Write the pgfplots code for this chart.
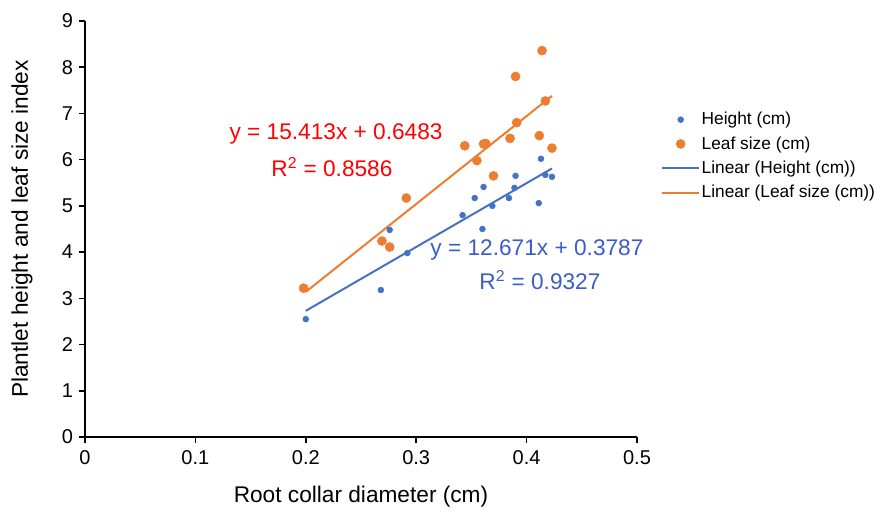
\documentclass[border=0pt]{standalone}
\usepackage{pgfplots}
\pgfplotsset{compat=1.18}
\usepackage{pgfplotstable}
\usepackage{fontspec}
\setmainfont{Liberation Sans}
\definecolor{xblue}{HTML}{4472C4}
\definecolor{xorange}{HTML}{ED7D31}
\definecolor{tblue}{RGB}{58,92,204}
\definecolor{tred}{HTML}{FF0000}

\pgfplotstableread{
x y
0.200 2.55
0.268 3.18
0.276 4.48
0.292 3.98
0.342 4.80
0.353 5.17
0.360 4.50
0.361 5.41
0.369 5.00
0.384 5.17
0.389 5.39
0.390 5.65
0.411 5.06
0.413 6.02
0.417 5.67
0.423 5.63
}\heighttab

\pgfplotstableread{
x y
0.198 3.22
0.269 4.24
0.276 4.11
0.291 5.17
0.344 6.30
0.355 5.98
0.361 6.34
0.363 6.35
0.370 5.65
0.385 6.46
0.390 7.80
0.391 6.80
0.4115 6.52
0.414 8.36
0.417 7.27
0.423 6.25
}\leaftab

\begin{document}
\begin{tikzpicture}
\path[use as bounding box] (-63.75pt,-56.25pt) rectangle (600.75pt,327.75pt);
\begin{axis}[
  at={(0,0)}, anchor=south west,
  scale only axis, width=414pt, height=312pt,
  xmin=0, xmax=0.5, ymin=0, ymax=9,
  xtick={0,0.1,0.2,0.3,0.4,0.5},
  xticklabels={0,0.1,0.2,0.3,0.4,0.5},
  ytick={0,1,...,9},
  axis lines=left,
  axis line style={black, line width=1.1pt, -},
  tick style={black, line width=1.1pt},
  tick align=outside, major tick length=4.5pt,
  /pgf/number format/assume math mode=true,
  ticklabel style={font=\fontsize{15}{18}\selectfont},
  xticklabel style={yshift=-2pt},
  yticklabel style={xshift=-1pt},
  xlabel={Root collar diameter (cm)},
  ylabel={Plantlet height and leaf size index},
  every axis x label/.style={at={(axis description cs:0.5,-0.144)}, anchor=center, font=\fontsize{17}{20}\selectfont},
  every axis y label/.style={at={(axis description cs:-0.114,0.5)}, rotate=90, anchor=center, font=\fontsize{17}{20}\selectfont},
  clip=false,
  legend style={draw=none, fill=none, at={(axis description cs:1.043,0.781)}, anchor=north west,
    font=\fontsize{13}{15.6}\selectfont, inner sep=0pt, row sep=7.3pt,
    nodes={inner xsep=1pt, inner ysep=0pt}},
  legend cell align=left,
  legend image code/.code={\draw[mark repeat=2,mark phase=2,#1] plot coordinates {(0pt,0pt)(14pt,0pt)(28pt,0pt)};},
]
\addplot[only marks, mark=*, mark size=2.2pt, color=xblue, mark options={draw=xblue, fill=xblue}] table[x=x,y=y] {\heighttab};
\addlegendentry{Height (cm)}
\addplot[only marks, mark=*, mark size=3.4pt, color=xorange, mark options={draw=xorange, fill=xorange}] table[x=x,y=y] {\leaftab};
\addlegendentry{Leaf size (cm)}
\addplot[color=xblue, line width=1.5pt, mark=none] coordinates {(0.2,2.73) (0.423,5.81)};
\addlegendentry{Linear (Height (cm))}
\addplot[color=xorange, line width=1.5pt, mark=none] coordinates {(0.2,3.14) (0.423,7.38)};
\addlegendentry{Linear (Leaf size (cm))}
\node[font=\fontsize{17}{20}\selectfont, text=tred, anchor=center] at (axis cs:0.2274,6.556) {y = 15.413x + 0.6483};
\node[font=\fontsize{17}{20}\selectfont, text=tred, anchor=center] at (axis cs:0.2237,5.842) {R\textsuperscript{2} = 0.8586};
\node[font=\fontsize{17}{20}\selectfont, text=tblue, anchor=center] at (axis cs:0.4094,4.046) {y = 12.671x + 0.3787};
\node[font=\fontsize{17}{20}\selectfont, text=tblue, anchor=center] at (axis cs:0.4121,3.397) {R\textsuperscript{2} = 0.9327};
\end{axis}
\end{tikzpicture}
\end{document}
